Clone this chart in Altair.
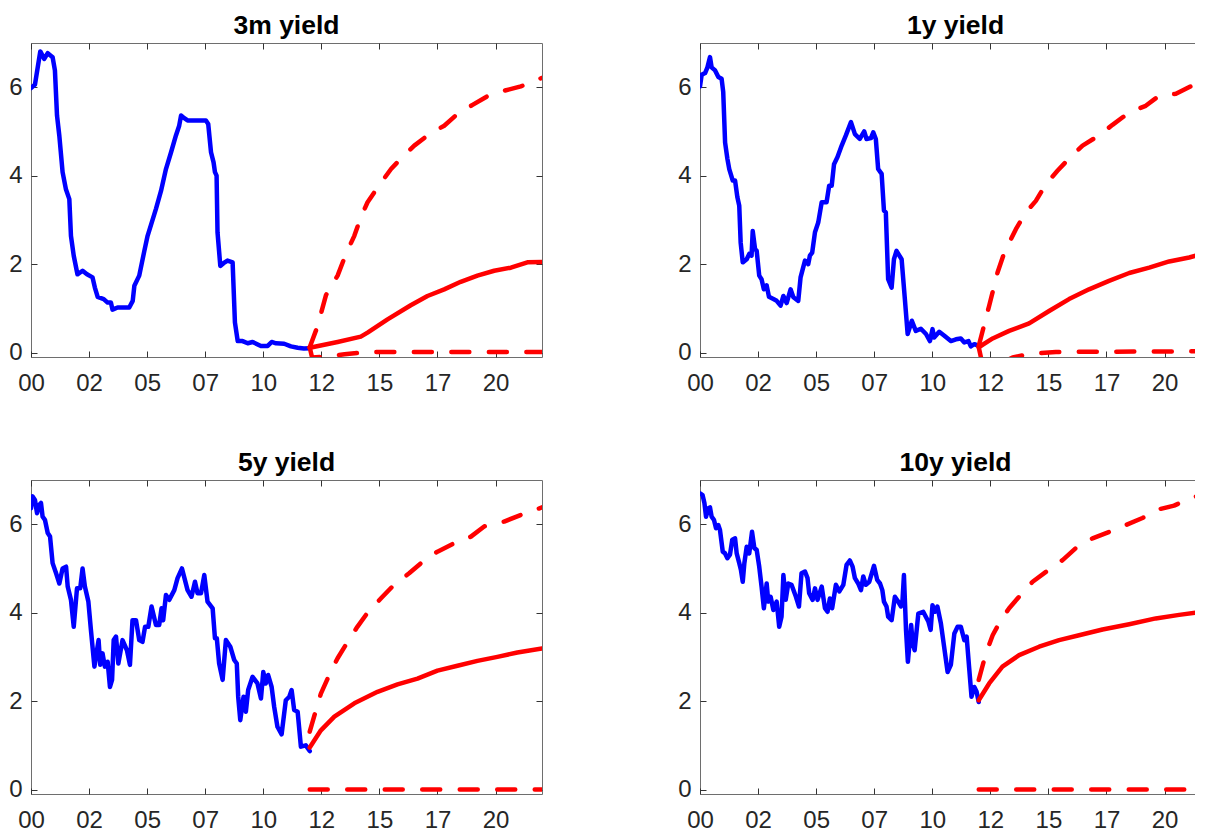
import altair as alt
import pandas as pd

# ---------------- data ----------------
# x = decimal year, y = yield (%)
hist_3m = [(2000.0,5.98),(2000.17,6.06),(2000.4,6.81),(2000.57,6.64),(2000.72,6.77),(2000.93,6.68),(2001.03,6.38),
           (2001.12,5.36),(2001.22,4.9),(2001.36,4.08),(2001.5,3.7),(2001.65,3.47),(2001.72,2.64),(2001.84,2.19),
           (2002.0,1.77),(2002.22,1.85),(2002.41,1.77),(2002.65,1.70),(2002.75,1.47),(2002.87,1.26),(2003.13,1.21),
           (2003.3,1.13),(2003.44,1.13),(2003.51,0.97),(2003.73,1.02),(2004.23,1.02),(2004.38,1.17),(2004.45,1.51),
           (2004.66,1.74),(2004.88,2.30),(2005.02,2.64),(2005.38,3.25),(2005.6,3.66),(2005.81,4.15),(2006.03,4.53),
           (2006.24,4.91),(2006.38,5.13),(2006.46,5.36),(2006.6,5.30),(2006.74,5.25),(2007.17,5.25),(2007.53,5.25),
           (2007.63,5.17),(2007.75,4.53),(2007.86,4.30),(2007.92,4.08),(2007.99,4.0),(2008.03,2.72),(2008.15,1.96),
           (2008.29,2.02),(2008.46,2.08),(2008.68,2.04),(2008.78,0.68),(2008.9,0.26),(2009.11,0.26),(2009.33,0.21),
           (2009.54,0.24),(2009.9,0.15),(2010.19,0.15),(2010.36,0.24),(2010.55,0.21),(2010.9,0.2),(2011.19,0.14),
           (2011.48,0.11),(2011.75,0.09),(2012.0,0.10)]
mean_3m = [(2012.0,0.11),(2013.2,0.24),(2014.2,0.36),(2014.49,0.45),(2015.35,0.75),(2016.35,1.07),(2017.07,1.28),
           (2017.79,1.43),(2018.5,1.60),(2019.22,1.74),(2019.94,1.85),(2020.66,1.92),(2021.37,2.04),(2022.0,2.05)]
up_3m = [(2012.0,0.12),(2012.34,0.60),(2012.7,1.30),(2013.2,1.74),(2013.56,2.23),(2013.92,2.64),(2014.2,3.06),
         (2014.49,3.40),(2014.93,3.74),(2015.5,4.15),(2015.93,4.39),(2016.5,4.68),(2017.15,4.94),(2017.79,5.13),
         (2018.37,5.40),(2019.01,5.60),(2019.66,5.80),(2020.37,5.92),(2021.09,6.02),(2022.0,6.21)]
lo_3m = [(2012.0,0.12),(2012.1,-0.11),(2012.5,-0.10),(2013.0,-0.07),(2013.5,-0.04),(2014.2,0.0),(2015.0,0.015),
         (2022.0,0.015)]

hist_1y = [(2000.0,6.02),(2000.07,6.28),(2000.22,6.32),(2000.32,6.45),(2000.43,6.68),(2000.5,6.45),(2000.65,6.38),
           (2000.79,6.23),(2000.93,6.19),(2001.0,5.89),(2001.08,4.75),(2001.18,4.38),(2001.26,4.15),(2001.41,3.89),
           (2001.51,3.89),(2001.61,3.51),(2001.69,3.32),(2001.75,2.49),(2001.84,2.04),(2002.01,2.11),(2002.12,2.23),
           (2002.22,2.19),(2002.27,2.75),(2002.37,2.34),(2002.44,2.30),(2002.55,1.74),(2002.65,1.66),(2002.75,1.43),
           (2002.87,1.52),(2002.97,1.26),(2003.16,1.21),(2003.3,1.17),(2003.47,1.06),(2003.59,1.28),(2003.73,1.12),
           (2003.9,1.43),(2004.02,1.25),(2004.23,1.17),(2004.33,1.70),(2004.52,2.08),(2004.66,2.0),(2004.73,2.19),
           (2004.83,2.26),(2004.95,2.72),(2005.09,2.94),(2005.24,3.40),(2005.45,3.40),(2005.56,3.77),(2005.67,3.77),
           (2005.77,4.26),(2005.92,4.42),(2006.1,4.68),(2006.28,4.91),(2006.5,5.21),(2006.67,4.94),(2006.88,4.83),
           (2007.07,5.0),(2007.17,4.83),(2007.36,4.85),(2007.46,4.98),(2007.57,4.83),(2007.67,4.15),(2007.82,4.04),
           (2007.92,3.21),(2008.0,3.17),(2008.1,1.66),(2008.25,1.47),(2008.35,2.11),(2008.46,2.30),(2008.68,2.11),
           (2008.82,1.21),(2008.94,0.42),(2009.12,0.72),(2009.29,0.49),(2009.51,0.54),(2009.73,0.42),(2009.9,0.26),
           (2010.01,0.53),(2010.08,0.34),(2010.3,0.47),(2010.52,0.38),(2010.8,0.26),(2011.02,0.30),(2011.23,0.32),
           (2011.38,0.23),(2011.56,0.26),(2011.66,0.14),(2011.81,0.19),(2012.0,0.15)]
mean_1y = [(2012.0,0.12),(2012.6,0.32),(2013.31,0.49),(2014.17,0.66),(2015.03,0.94),(2015.89,1.21),(2016.75,1.43),
           (2017.61,1.62),(2018.48,1.80),(2019.34,1.92),(2020.2,2.06),(2021.06,2.15),(2021.63,2.23),(2022.0,2.27)]
up_1y = [(2012.0,0.15),(2012.45,1.06),(2012.81,1.81),(2013.1,2.26),(2013.6,2.79),(2014.03,3.17),(2014.46,3.43),
         (2014.89,3.81),(2015.39,4.11),(2015.89,4.39),(2016.47,4.68),(2017.18,4.91),(2017.76,5.15),(2018.48,5.43),
         (2019.19,5.58),(2019.77,5.81),(2020.49,5.85),(2021.13,6.02),(2022.0,6.12)]
lo_1y = [(2012.0,0.12),(2012.1,-0.12),(2012.4,-0.25),(2012.8,-0.26),(2013.2,-0.18),(2013.46,-0.11),(2014.0,-0.05),
         (2014.46,-0.02),(2015.32,0.015),(2022.0,0.03)]

hist_5y = [(2000.0,6.36),(2000.07,6.63),(2000.17,6.55),(2000.26,6.25),(2000.36,6.44),(2000.43,6.48),(2000.5,6.17),
           (2000.6,6.10),(2000.72,5.80),(2000.82,5.72),(2000.93,5.12),(2001.08,4.89),(2001.22,4.66),(2001.36,5.0),
           (2001.51,5.04),(2001.58,4.59),(2001.72,4.29),(2001.84,3.68),(2001.98,4.55),(2002.12,4.55),(2002.22,5.0),
           (2002.32,4.59),(2002.47,4.25),(2002.58,3.61),(2002.73,2.78),(2002.84,3.15),(2002.91,3.38),(2002.98,2.82),
           (2003.08,3.08),(2003.18,2.78),(2003.3,2.89),(2003.4,2.32),(2003.49,2.48),(2003.56,3.38),(2003.66,3.46),
           (2003.76,2.85),(2003.94,3.38),(2004.13,3.15),(2004.26,2.82),(2004.37,3.83),(2004.52,3.83),(2004.66,3.38),
           (2004.8,3.34),(2004.91,3.68),(2005.05,3.68),(2005.19,4.14),(2005.38,3.72),(2005.52,3.72),(2005.62,4.10),
           (2005.69,3.83),(2005.81,4.40),(2005.95,4.29),(2006.17,4.51),(2006.31,4.78),(2006.5,5.0),(2006.74,4.51),
           (2006.91,4.36),(2007.06,4.70),(2007.17,4.44),(2007.32,4.44),(2007.46,4.85),(2007.6,4.25),(2007.82,4.10),
           (2007.92,3.42),(2008.0,3.42),(2008.1,2.85),(2008.25,2.48),(2008.39,3.38),(2008.58,3.23),(2008.75,2.93),
           (2008.86,2.85),(2008.92,2.10),(2009.01,1.57),(2009.15,2.10),(2009.25,1.76),(2009.35,2.25),(2009.54,2.55),
           (2009.75,2.40),(2009.9,2.06),(2010.0,2.66),(2010.11,2.40),(2010.21,2.59),(2010.36,2.32),(2010.47,1.87),
           (2010.61,1.42),(2010.79,1.25),(2010.97,2.02),(2011.12,2.10),(2011.22,2.25),(2011.33,1.80),(2011.48,1.76),
           (2011.62,0.97),(2011.83,1.0),(2012.0,0.87)]
mean_5y = [(2012.0,0.95),(2012.48,1.34),(2013.06,1.65),(2013.92,1.95),(2014.92,2.21),(2015.78,2.38),(2016.64,2.51),
           (2017.5,2.69),(2018.36,2.80),(2019.22,2.91),(2020.08,3.0),(2020.94,3.10),(2022.0,3.19)]
up_5y = [(2012.0,1.31),(2012.27,1.80),(2012.48,2.17),(2012.84,2.59),(2013.2,2.97),(2013.63,3.34),(2014.05,3.68),
         (2014.49,4.0),(2015.06,4.32),(2015.63,4.63),(2016.28,4.89),(2016.86,5.15),(2017.5,5.38),(2018.22,5.57),
         (2018.94,5.72),(2019.51,5.95),(2020.37,6.06),(2021.09,6.21),(2022.0,6.38)]
lo_5y = [(2012.0,0.0),(2022.0,0.0)]

hist_10y = [(2000.0,6.70),(2000.11,6.66),(2000.19,6.48),(2000.26,6.17),(2000.36,6.36),(2000.43,6.38),(2000.5,6.17),
            (2000.6,6.10),(2000.69,5.91),(2000.79,5.98),(2000.86,5.87),(2000.98,5.38),(2001.08,5.34),(2001.18,5.23),
            (2001.29,5.31),(2001.39,5.65),(2001.51,5.68),(2001.58,5.34),(2001.69,5.12),(2001.76,4.97),(2001.84,4.70),
            (2001.91,5.12),(2002.01,5.49),(2002.12,5.34),(2002.24,5.83),(2002.34,5.46),(2002.44,5.42),(2002.55,5.04),
            (2002.65,4.59),(2002.75,4.10),(2002.87,4.66),(2002.94,4.25),(2003.04,4.36),(2003.16,4.06),(2003.3,4.25),
            (2003.41,3.68),(2003.51,3.91),(2003.59,4.85),(2003.69,4.29),(2003.8,4.66),(2003.94,4.63),(2004.13,4.36),
            (2004.26,4.14),(2004.37,4.89),(2004.52,4.93),(2004.63,4.78),(2004.7,4.44),(2004.85,4.29),(2004.95,4.55),
            (2005.06,4.29),(2005.24,4.59),(2005.38,4.10),(2005.49,4.02),(2005.59,4.32),(2005.69,4.10),(2005.85,4.63),
            (2006.0,4.48),(2006.17,4.63),(2006.31,5.08),(2006.45,5.18),(2006.57,5.04),(2006.67,4.78),(2006.81,4.66),
            (2006.93,4.51),(2007.03,4.82),(2007.14,4.63),(2007.29,4.70),(2007.49,5.06),(2007.63,4.74),(2007.75,4.66),
            (2007.85,4.51),(2007.92,4.25),(2008.03,4.14),(2008.1,3.91),(2008.25,3.83),(2008.39,4.36),(2008.53,4.25),
            (2008.65,4.14),(2008.72,4.29),(2008.78,4.85),(2008.87,3.60),(2008.95,2.89),(2009.09,3.72),(2009.16,3.30),
            (2009.24,3.15),(2009.4,3.98),(2009.61,4.02),(2009.83,3.80),(2009.93,3.61),(2010.01,4.17),(2010.11,4.02),
            (2010.22,4.14),(2010.37,3.76),(2010.52,3.19),(2010.66,2.66),(2010.8,2.82),(2010.95,3.53),(2011.09,3.68),
            (2011.23,3.68),(2011.38,3.38),(2011.48,3.46),(2011.59,2.74),(2011.69,2.10),(2011.81,2.32),(2011.91,2.21),
            (2012.0,1.98)]
mean_10y = [(2012.0,2.02),(2012.45,2.40),(2013.02,2.78),(2013.74,3.04),(2014.6,3.23),(2015.46,3.38),(2016.32,3.49),
            (2017.33,3.62),(2018.48,3.74),(2019.62,3.87),(2020.63,3.95),(2021.63,4.02),(2022.0,4.04)]
up_10y = [(2012.0,2.48),(2012.31,3.08),(2012.6,3.49),(2012.95,3.83),(2013.31,4.10),(2013.67,4.32),(2014.32,4.70),
          (2014.96,4.95),(2015.61,5.19),(2016.18,5.46),(2016.9,5.68),(2017.54,5.81),(2018.33,5.98),(2019.05,6.14),
          (2019.77,6.34),(2020.41,6.42),(2021.2,6.61),(2021.63,6.66),(2022.0,6.70)]
lo_10y = [(2012.0,0.0),(2022.0,0.0)]

x_ticks = [2000, 2002.5, 2005, 2007.5, 2010, 2012.5, 2015, 2017.5, 2020]
y_ticks = [0, 2, 4, 6]
x_domain = [2000, 2022]
y_domain = [-0.1, 7]

FONT = "Liberation Sans"
W, H = 511, 314
TICK = 6
LW = 4.5


def frame(pts):
    return pd.DataFrame(pts, columns=["t", "v"])


def panel(title, hist, mean, up, lo):
    xs = alt.Scale(domain=x_domain, nice=False, zero=False)
    ys = alt.Scale(domain=y_domain, nice=False, zero=False)
    ax_b = alt.Axis(orient="bottom", values=x_ticks, title=None, grid=False, domain=False,
                    offset=-TICK, tickSize=TICK, labelPadding=14, labelFlush=False,
                    labelExpr="substring(toString(floor(datum.value)), 2)",
                    minExtent=40, maxExtent=40)
    ax_l = alt.Axis(orient="left", values=y_ticks, title=None, grid=False, domain=False,
                    offset=-TICK, tickSize=TICK, labelPadding=9, labelFlush=False,
                    minExtent=25, maxExtent=25)
    ax_t = alt.Axis(orient="top", values=x_ticks, title=None, grid=False, domain=False, labels=False,
                    offset=-TICK, tickSize=TICK, minExtent=0, maxExtent=0)
    ax_r = alt.Axis(orient="right", values=y_ticks, title=None, grid=False, domain=False, labels=False,
                    offset=-TICK, tickSize=TICK, minExtent=0, maxExtent=0)
    line_kw = dict(strokeWidth=LW, clip=True, strokeJoin="round", strokeCap="round")
    blue = alt.Chart(frame(hist)).mark_line(color="#0000ff", **line_kw).encode(
        x=alt.X("t:Q", scale=xs, axis=ax_b), y=alt.Y("v:Q", scale=ys, axis=ax_l))
    red = alt.Chart(frame(mean)).mark_line(color="#ff0000", **line_kw).encode(
        x=alt.X("t:Q", scale=xs, axis=ax_t), y=alt.Y("v:Q", scale=ys, axis=ax_r))
    dash_kw = dict(strokeWidth=LW, clip=True, strokeJoin="round", strokeCap="round", strokeDash=[18, 19.5])
    upc = alt.Chart(frame(up)).mark_line(color="#ff0000", **dash_kw).encode(
        x=alt.X("t:Q", scale=xs, axis=None), y=alt.Y("v:Q", scale=ys, axis=None))
    loc = alt.Chart(frame(lo)).mark_line(color="#ff0000", **dash_kw).encode(
        x=alt.X("t:Q", scale=xs, axis=None), y=alt.Y("v:Q", scale=ys, axis=None))
    return alt.layer(blue, red, upc, loc).resolve_axis(x="independent", y="independent").properties(
        width=W, height=H, title=alt.TitleParams(title, offset=3.3))


p1 = panel("3m yield", hist_3m, mean_3m, up_3m, lo_3m)
p2 = panel("1y yield", hist_1y, mean_1y, up_1y, lo_1y)
p3 = panel("5y yield", hist_5y, mean_5y, up_5y, lo_5y)
p4 = panel("10y yield", hist_10y, mean_10y, up_10y, lo_10y)

chart = alt.vconcat(
    alt.hconcat(p1, p2, spacing=134),
    alt.hconcat(p3, p4, spacing=134),
    spacing=53,
).properties(
    padding={"left": 0, "top": 4, "right": -17, "bottom": 0},
    background="white",
).configure_view(
    stroke="#6e6e6e", strokeWidth=1
).configure_axis(
    labelFont=FONT, labelFontSize=24, labelColor="#262626",
    tickColor="#333333", tickWidth=1,
).configure_title(
    font=FONT, fontSize=26.5, fontWeight="bold", color="#000000", anchor="middle", frame="group"
)

chart.save("out.html", embed_options={"renderer": "svg", "actions": False})
